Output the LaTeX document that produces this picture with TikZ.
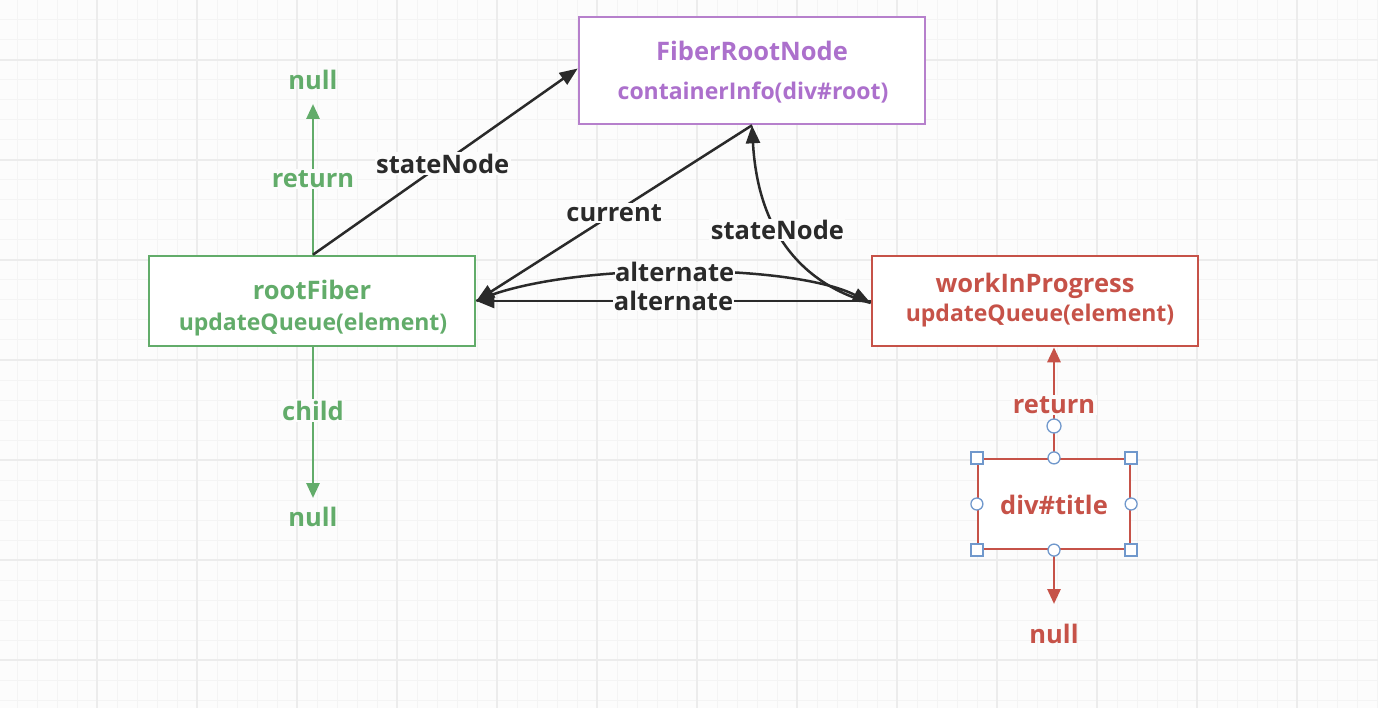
\documentclass[tikz,border=0pt]{standalone}
\usepackage{fontspec}
\setmainfont{Open Sans}
\usetikzlibrary{arrows.meta}
\definecolor{bg}{RGB}{252,252,252}
\definecolor{gminor}{RGB}{244,244,244}
\definecolor{gmajor}{RGB}{236,236,236}
\definecolor{purp}{RGB}{182,128,204}
\definecolor{purptxt}{RGB}{172,112,204}
\definecolor{grn}{RGB}{98,172,106}
\definecolor{rd}{RGB}{198,82,72}
\definecolor{dk}{RGB}{42,42,42}
\definecolor{hdl}{RGB}{112,152,204}
\begin{document}
\begin{tikzpicture}[x=1pt,y=-1pt,
  box/.style={draw,line width=2.6pt,fill=white,inner sep=0pt},
  txt/.style={font=\bfseries\fontsize{25.5}{30}\selectfont,inner sep=0pt},
  sub/.style={font=\bfseries\fontsize{23}{27}\selectfont,inner sep=0pt},
  lbl/.style={font=\bfseries\fontsize{25.5}{30}\selectfont,fill=bg,inner sep=1.5pt},
  darrow/.style={draw=dk,line width=2.5pt,-{Triangle[length=18pt,width=14pt]}},
  carrow/.style={line width=2.8pt,-{Triangle[length=15pt,width=13pt]}},
  hsq/.style={draw=hdl,fill=white,line width=1.3pt,minimum size=12pt,inner sep=0pt},
  hci/.style={circle,draw=hdl,fill=white,line width=1.3pt,minimum size=12pt,inner sep=0pt}]
\fill[bg] (0,0) rectangle (1378,708);
\useasboundingbox (0,0) rectangle (1378,708);
\foreach \x in {17,37,...,1377} \draw[gminor,line width=1pt] (\x,0) -- (\x,708);
\foreach \y in {0,20,...,700} \draw[gminor,line width=1pt] (0,\y) -- (1378,\y);
\foreach \x in {97,197,...,1377} \draw[gmajor,line width=1.2pt] (\x,0) -- (\x,708);
\foreach \y in {60,160,...,700} \draw[gmajor,line width=1.2pt] (0,\y) -- (1378,\y);

% boxes
\node[box,draw=purp,minimum width=346pt,minimum height=107pt] (frn) at (752,70.5) {};
\node[box,draw=grn,minimum width=326pt,minimum height=90pt] (rf) at (312,301) {};
\node[box,draw=rd,minimum width=326pt,minimum height=90pt] (wip) at (1035,301) {};
\node[box,draw=rd,line width=2.2pt,minimum width=152pt,minimum height=90pt] (dt) at (1054,504) {};

% box texts
\node[txt,text=purptxt] (frn1) at (752,51) {FiberRootNode};
\node[sub,text=purptxt] (frn2) at (753,93) {containerInfo(div\#root)};
\node[txt,text=grn] (rf1) at (312,290) {rootFiber};
\node[sub,text=grn] (rf2) at (313,325) {updateQueue(element)};
\node[txt,text=rd] (wip1) at (1035,286) {workInProgress};
\node[sub,text=rd] (wip2) at (1040,316) {updateQueue(element)};
\node[txt,text=rd] (dt1) at (1054,505) {div\#title};

% free ends and null texts
\coordinate (upTip) at (313,104);
\coordinate (dnTip) at (313,498);
\coordinate (rdTip) at (1054,604);
\node[txt,text=grn] (nullA) at (313,80) {null};
\node[txt,text=grn] (nullB) at (313,517) {null};
\node[txt,text=rd] (nullC) at (1054,634) {null};

% green arrows
\draw[carrow,draw=grn] (rf.north -| upTip) -- node[lbl,text=grn,pos=0.5] (lret) {return} (upTip);
\draw[carrow,draw=grn] (rf.south -| dnTip) -- node[lbl,text=grn,pos=0.42] (lchild) {child} (dnTip);

% red arrows
\draw[carrow,draw=rd] (dt.north) -- node[lbl,text=rd,pos=0.48] (lret2) {return} (dt.north |- wip.south);
\draw[carrow,draw=rd] (dt.south) -- (rdTip);

% black connectors
\draw[darrow] (rf.north -| upTip) -- node[lbl,text=dk,pos=0.49] (lsn) {stateNode} ([yshift=2pt]frn.west);
\draw[darrow] (frn.south) -- node[lbl,text=dk,pos=0.5] (lcur) {current} (rf.east);
\draw[darrow] (rf.east) .. controls (560,262) and (790,262) .. node[lbl,text=dk,pos=0.5,inner sep=0.5pt] (lalt1) {alternate} ([yshift=-2pt]wip.west);
\draw[darrow] (wip.west) -- node[lbl,text=dk,pos=0.5,inner sep=0.5pt] (lalt2) {alternate} (rf.east);
\draw[darrow] ([yshift=-2pt]wip.west) .. controls (805,285) and (758,235) .. node[lbl,text=dk,pos=0.6] (lsn2) {stateNode} (frn.south);

% selection handles
\node[hci,minimum size=14pt] (rot) at (1054,426) {};
\node[hsq] (h1) at (dt.north west) {};
\node[hsq] (h2) at (dt.north east) {};
\node[hsq] (h3) at (dt.south west) {};
\node[hsq] (h4) at (dt.south east) {};
\node[hci] (h5) at (dt.north) {};
\node[hci] (h6) at (dt.south) {};
\node[hci] (h7) at (dt.west) {};
\node[hci] (h8) at (dt.east) {};
\end{tikzpicture}
\end{document}
